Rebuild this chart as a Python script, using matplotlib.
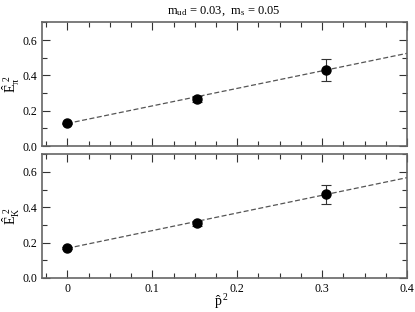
import numpy as np
import matplotlib
matplotlib.use("Agg")
import matplotlib.pyplot as plt
from matplotlib.ticker import MultipleLocator

plt.rcParams['font.family'] = 'Liberation Serif'
plt.rcParams['mathtext.fontset'] = 'custom'
plt.rcParams['mathtext.rm'] = 'Liberation Serif'
plt.rcParams['mathtext.it'] = 'Liberation Serif'

# data
p2 = [0.0, 0.1525, 0.3045]
e_pi = [0.129, 0.266, 0.432]
e_pi_err = [0.004, 0.018, 0.063]
e_k = [0.169, 0.309, 0.472]
e_k_err = [0.004, 0.014, 0.055]
# linear fits (intercept, slope)
fit_pi = [0.128, 0.993]
fit_k = [0.168, 0.998]

fig = plt.figure(figsize=(4.15, 3.12), dpi=100)
ax1 = fig.add_axes([0.101, 0.532, 0.880, 0.396])
ax2 = fig.add_axes([0.101, 0.109, 0.880, 0.397])

xl = np.array([0.0, 0.4])
panels = [(ax1, e_pi, e_pi_err, fit_pi, r'$\hat{\rm E}_{\pi}^{\ 2}$'),
          (ax2, e_k, e_k_err, fit_k, r'$\hat{\rm E}_{\rm K}^{\ 2}$')]
for ax, y, yerr, fit, lab in panels:
    ax.plot(xl, fit[0] + fit[1]*xl, '--', color='#555555', lw=0.9, dashes=(4, 2))
    ax.errorbar(p2, y, yerr=yerr, fmt='o', color='black', ms=6.5,
                ecolor='#333333', elinewidth=0.8, capsize=3.5, capthick=0.8)
    ax.set_xlim(-0.03, 0.4)
    ax.set_ylim(0, 0.7)
    ax.xaxis.set_major_locator(MultipleLocator(0.1))
    ax.xaxis.set_minor_locator(MultipleLocator(0.025))
    ax.yaxis.set_major_locator(MultipleLocator(0.2))
    ax.yaxis.set_minor_locator(MultipleLocator(0.1))
    ax.tick_params(which='both', direction='in', top=True, right=True,
                   labelsize=8.5, color='#333333', width=0.8)
    ax.tick_params(which='major', length=6)
    ax.tick_params(which='minor', length=3.5)
    ax.yaxis.set_major_formatter(matplotlib.ticker.FormatStrFormatter('%.1f'))
    for s in ax.spines.values():
        s.set_linewidth(1.2)
        s.set_color('#666666')
    ax.set_ylabel(lab, fontsize=10)
    ax.yaxis.set_label_coords(-0.055, 0.5)

ax1.tick_params(labelbottom=False)
ax2.xaxis.set_major_formatter(matplotlib.ticker.FuncFormatter(
    lambda v, p: '0' if abs(v) < 1e-9 else '%.1f' % v))
ax2.set_xlabel(r'$\hat{\rm p}^{\,2}$', fontsize=10)
ax2.xaxis.set_label_coords(0.49, -0.11)
fig.text(0.54, 0.985, r'm$_{\rm ud}$ = 0.03,  m$_{\rm s}$ = 0.05',
         ha='center', va='top', fontsize=9)

fig.savefig('out.png', dpi=100)
